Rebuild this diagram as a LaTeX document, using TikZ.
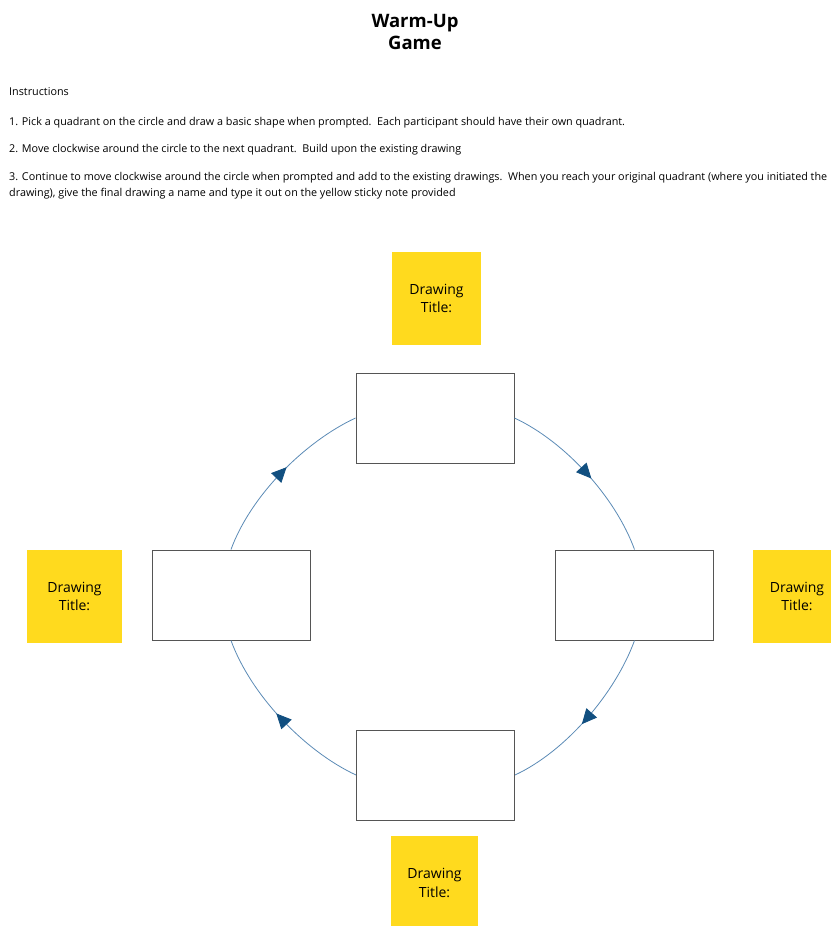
\documentclass[tikz,border=0pt]{standalone}
\usepackage{fontspec}
\setmainfont{Open Sans}
\usetikzlibrary{arrows.meta,decorations.markings}

\definecolor{sticky}{HTML}{FFDA1E}
\definecolor{arcblue}{HTML}{5A8AB5}
\definecolor{tipblue}{HTML}{114F80}
\definecolor{boxgray}{HTML}{555555}

\begin{document}
\begin{tikzpicture}[x=1pt,y=1pt,
  titletext/.style={font=\fontsize{18.5}{22}\selectfont\bfseries, align=center},
  instr/.style={anchor=base west, inner sep=0pt,
    font=\fontsize{10.8}{16}\selectfont},
  canvas/.style={draw=boxgray, line width=1pt, fill=white,
    minimum width=158pt, minimum height=90pt, inner sep=0pt},
  note/.style={fill=sticky, inner sep=0pt, align=center,
    font=\fontsize{14}{18.5}\selectfont},
  flow/.style={draw=arcblue, line width=0.8pt, looseness=0.8,
    postaction={decorate},
    decoration={markings, mark=at position 0.5 with
      {\arrow[color=tipblue, xshift=7.5pt]{Triangle[length=15pt,width=14pt]}}}}
]
\useasboundingbox (0,0) rectangle (830,-926);

% heading
\node[titletext] (title) at (415,-32) {Warm-Up\\Game};

% instructions
\node[instr] (ins0) at (9,-95) {Instructions};
\node[instr] (ins1) at (9,-125) {1. Pick a quadrant on the circle and draw a basic shape when prompted.\ \ Each participant should have their own quadrant.};
\node[instr] (ins2) at (9,-152) {2. Move clockwise around the circle to the next quadrant.\ \ Build upon the existing drawing};
\node[instr] (ins3a) at (9,-180) {3. Continue to move clockwise around the circle when prompted and add to the existing drawings.\ \ When you reach your original quadrant (where you initiated the};
\node[instr] (ins3b) at (9,-196) {drawing), give the final drawing a name and type it out on the yellow sticky note provided};

% drawing canvases
\node[canvas] (top) at (435,-418) {};
\node[canvas] (rgt) at (634.5,-595) {};
\node[canvas] (bot) at (435.5,-775) {};
\node[canvas] (lft) at (231,-595) {};

% clockwise connectors
\draw[flow] (top.east) to[out=-25, in=110] (rgt.north);
\draw[flow] (rgt.south) to[out=-110, in=25] (bot.east);
\draw[flow] (bot.west) to[out=155, in=-70] (lft.south);
\draw[flow] (lft.north) to[out=70, in=-155] (top.west);

% sticky notes
\node[note, minimum width=89pt, minimum height=93pt] (ntop) at (436.5,-298.5) {Drawing\\Title:};
\node[note, minimum width=95pt, minimum height=93pt] (nlft) at (74.5,-596.5) {Drawing\\Title:};
\node[note, minimum width=88pt, minimum height=93pt] (nrgt) at (797,-596.5) {Drawing\\Title:};
\node[note, minimum width=87pt, minimum height=94pt] (nbot) at (434.5,-883) {Drawing\\Title:};
\end{tikzpicture}
\end{document}
